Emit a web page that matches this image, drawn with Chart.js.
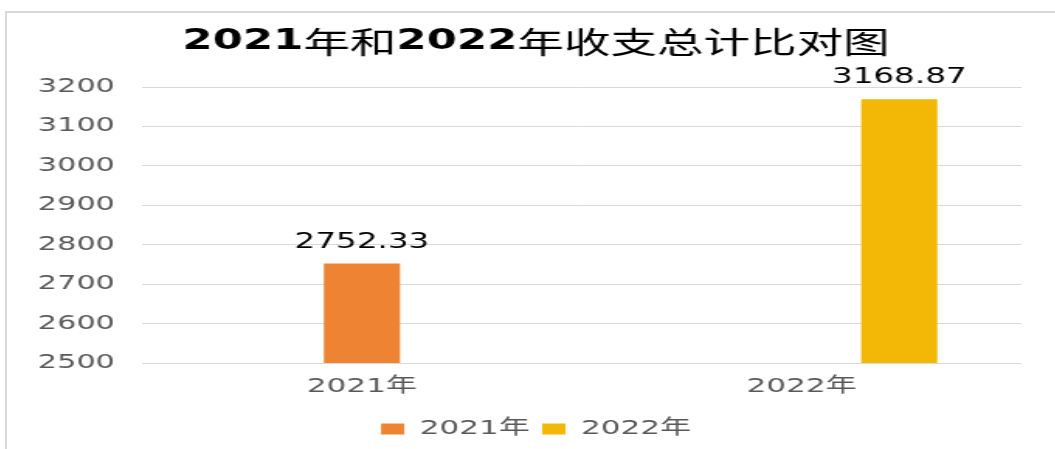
<!DOCTYPE html>
<html>
<head>
<meta charset="utf-8">
<script src="https://cdn.jsdelivr.net/npm/chart.js@4"></script>
<style>
  html, body { margin: 0; padding: 0; background: #fff; overflow: hidden; }
  body { width: 1055px; height: 449px; position: relative; }
  /* cadre gris du graphique (coupé à droite et en bas, comme l'original) */
  .frame {
    position: absolute; left: 5px; top: 11px; width: 1200px; height: 600px;
    border-left: 2px solid #d9d9d9; border-top: 2px solid #d9d9d9;
  }
  #chart { position: absolute; left: 4px; top: 0; }
</style>
</head>
<body>
<div class="frame"></div>
<!-- le graphique d'origine est étiré horizontalement : on dessine plus étroit puis on étire -->
<canvas id="chart" width="686" height="449" style="width:1064px;height:449px"></canvas>
<script>
// Données
const chartTitle = '2021年和2022年收支总计比对图';
const categories = ['2021年', '2022年'];
const seriesNames = ['2021年', '2022年'];
const values2021 = [2752.33, null];
const values2022 = [null, 3168.87];
const yTicks = [2500, 2600, 2700, 2800, 2900, 3000, 3100, 3200];

const fontFamily = "'DejaVu Sans', 'Noto Sans CJK SC', sans-serif";

// Titre : chiffres en gras, caractères chinois en maigre
const mixedTitle = {
  id: 'mixedTitle',
  afterDraw(chart) {
    const ctx = chart.ctx;
    const parts = chartTitle.match(/\d+|\D+/g);
    const fontFor = p => /\d/.test(p) ? 'bold 28px "DejaVu Sans"' : '30px "Noto Sans CJK SC"';
    let total = 0;
    parts.forEach(p => { ctx.font = fontFor(p); total += ctx.measureText(p).width; });
    let x = chart.width / 2 - total / 2;
    ctx.save();
    ctx.fillStyle = '#000';
    ctx.textBaseline = 'middle';
    parts.forEach(p => {
      ctx.font = fontFor(p);
      ctx.fillText(p, x, 42);
      x += ctx.measureText(p).width;
    });
    ctx.restore();
  }
};

// Étiquettes de valeur au-dessus des barres
const valueLabels = {
  id: 'valueLabels',
  afterDatasetsDraw(chart) {
    const ctx = chart.ctx;
    ctx.save();
    ctx.font = '21px "DejaVu Sans"';
    ctx.fillStyle = '#000';
    ctx.textAlign = 'center';
    ctx.textBaseline = 'alphabetic';
    chart.data.datasets.forEach((ds, i) => {
      chart.getDatasetMeta(i).data.forEach((bar, j) => {
        const v = ds.data[j];
        if (v == null) return;
        ctx.fillText(v.toFixed(2), bar.x, bar.y - 16);
      });
    });
    ctx.restore();
  }
};

new Chart(document.getElementById('chart'), {
  type: 'bar',
  data: {
    labels: categories,
    datasets: [{
      label: seriesNames[0],
      data: values2021,
      backgroundColor: '#EE8433',
      skipNull: true,          // barre centrée dans sa catégorie
      barPercentage: 0.195
    }, {
      label: seriesNames[1],
      data: values2022,
      backgroundColor: '#F2B805',
      barPercentage: 0.39      // barre décalée à droite
    }]
  },
  options: {
    responsive: false,
    animation: false,
    devicePixelRatio: 1,
    categoryPercentage: 0.888,
    layout: { padding: { top: 87, left: 0, right: 0, bottom: 0 } },
    scales: {
      x: {
        grid: { display: false, drawTicks: false },
        border: { display: false },
        ticks: {
          color: '#595959',
          padding: 12,
          font: { size: 20, family: fontFamily }
        }
      },
      y: {
        min: 2500,
        max: 3200,
        afterBuildTicks: scale => { scale.ticks = yTicks.map(v => ({ value: v })); },
        afterFit: scale => { scale.width = 89; },
        grid: { color: '#d9d9d9', lineWidth: 1, drawTicks: false },
        border: { display: false },
        ticks: {
          color: '#595959',
          padding: 17.5,
          callback: v => String(v),
          font: { size: 19.5, family: fontFamily }
        }
      },
      // axe vide à droite : garde la marge droite sans décentrer la légende
      yRight: {
        type: 'linear',
        position: 'right',
        afterFit: scale => { scale.width = 30; },
        grid: { display: false, drawTicks: false },
        border: { display: false },
        ticks: { display: false }
      }
    },
    plugins: {
      legend: {
        position: 'bottom',
        labels: {
          color: '#595959',
          boxWidth: 15,
          boxHeight: 11,
          padding: 8,
          font: { size: 20, family: fontFamily }
        }
      },
      tooltip: { enabled: false }
    }
  },
  plugins: [mixedTitle, valueLabels]
});
</script>
</body>
</html>
